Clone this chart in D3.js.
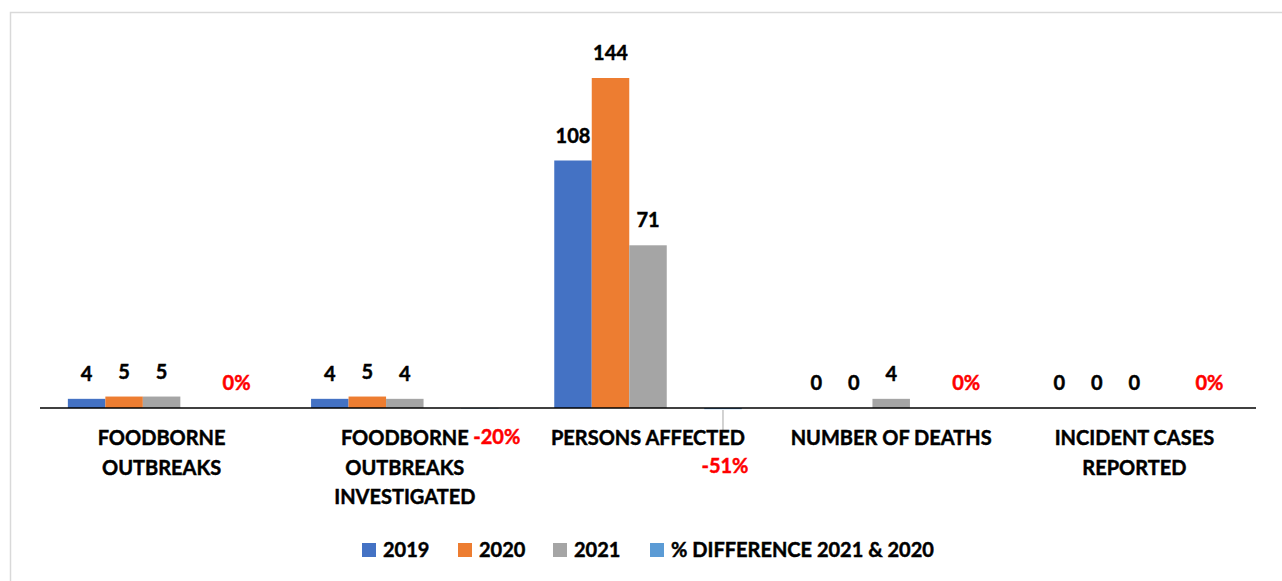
<!DOCTYPE html>
<html lang="en">
<head>
  <meta charset="UTF-8" />
  <title>Foodborne outbreaks 2019-2021</title>
  <script src="https://cdn.jsdelivr.net/npm/d3@7/dist/d3.min.js"></script>
  <style>
    html, body { margin: 0; padding: 0; background: #fff; }
    svg { display: block; font-family: Lato, "Open Sans", sans-serif; font-weight: bold; }
    svg text { stroke-width: 0.45px; paint-order: stroke; }
  </style>
</head>
<body>
  <div id="chart"></div>
  <script>
    // data
    const categories = [
      ["FOODBORNE", "OUTBREAKS"],
      ["FOODBORNE", "OUTBREAKS", "INVESTIGATED"],
      ["PERSONS AFFECTED"],
      ["NUMBER OF DEATHS"],
      ["INCIDENT CASES", "REPORTED"]
    ];
    const years = ["2019", "2020", "2021"];
    const values2019 = [4, 4, 108, 0, 0];
    const values2020 = [5, 5, 144, 0, 0];
    const values2021 = [5, 4, 71, 4, 0];
    const pctDiff = [0, -0.2, -0.51, 0, 0];
    const legendLabels = ["2019", "2020", "2021", "% DIFFERENCE 2021 & 2020"];

    const colors = ["#4472C4", "#ED7D31", "#A5A5A5", "#5B9BD5"];
    const width = 1282, height = 581;

    const svg = d3.select("#chart").append("svg")
      .attr("width", width).attr("height", height);

    // chart border
    svg.append("path")
      .attr("d", `M10.5,${height + 2}V12.5H${width + 2}`)
      .attr("fill", "none").attr("stroke", "#d9d9d9").attr("stroke-width", 1.5);

    const idx = d3.range(categories.length);
    const x0 = d3.scaleBand().domain(idx).range([40, 1256]);
    // 5 slots per group, 4th slot stays empty (as in the source chart)
    const x1 = d3.scaleBand().domain(d3.range(5)).range([0, x0.bandwidth()]).paddingOuter(0.743);
    const y = d3.scaleLinear().domain([0, 144]).range([408, 78]);
    const slotOf = [0, 1, 2, 4];

    const series = [values2019, values2020, values2021];
    const g = svg.append("g");

    series.forEach((vals, s) => {
      g.selectAll(null).data(idx).enter().append("rect")
        .attr("x", i => x0(i) + x1(slotOf[s]))
        .attr("width", x1.bandwidth())
        .attr("y", i => y(vals[i]))
        .attr("height", i => y(0) - y(vals[i]))
        .attr("fill", colors[s]);
      g.selectAll(null).data(idx).enter().append("text")
        .attr("x", i => x0(i) + x1(slotOf[s]) + x1.bandwidth() / 2)
        .attr("y", i => y(vals[i]) - 25)
        .attr("dy", "0.36em")
        .attr("text-anchor", "middle")
        .attr("font-size", 20)
        .attr("fill", "#000").attr("stroke", "#000")
        .text(i => vals[i]);
    });

    // % difference bars (tiny, in percent units on same scale)
    const pctX = i => x0(i) + x1(slotOf[3]);
    g.selectAll(null).data(idx).enter().append("rect")
      .attr("x", pctX)
      .attr("width", x1.bandwidth())
      .attr("y", i => Math.min(y(0), y(pctDiff[i])))
      .attr("height", i => Math.abs(y(pctDiff[i]) - y(0)))
      .attr("fill", colors[3]);

    // label offsets for the % labels (moved by hand in the source)
    const pctLabelOffset = [[0, -25], [17, 29], [2, 58], [0, -25], [0, -25]];
    const pctCx = i => pctX(i) + x1.bandwidth() / 2;

    // leader line for -51%
    g.append("line")
      .attr("x1", pctCx(2)).attr("x2", pctCx(2))
      .attr("y1", y(0) + 2).attr("y2", y(0) + 24)
      .attr("stroke", "#a6a6a6").attr("stroke-width", 1);

    g.selectAll(null).data(idx).enter().append("text")
      .attr("x", i => pctCx(i) + pctLabelOffset[i][0])
      .attr("y", i => y(0) + pctLabelOffset[i][1])
      .attr("dy", "0.36em")
      .attr("text-anchor", "middle")
      .attr("font-size", 20)
      .attr("fill", "#FF0000").attr("stroke", "#FF0000")
      .text(i => Math.round(pctDiff[i] * 100) + "%");

    // x axis line
    svg.append("line")
      .attr("x1", 40).attr("x2", 1256)
      .attr("y1", y(0)).attr("y2", y(0))
      .attr("stroke", "#000").attr("stroke-width", 1.5);

    // category labels
    const cat = svg.append("g").selectAll("text").data(idx).enter().append("text")
      .attr("x", i => x0(i) + x0.bandwidth() / 2)
      .attr("y", 438)
      .attr("text-anchor", "middle")
      .attr("font-size", 20)
      .attr("fill", "#000").attr("stroke", "#000");
    cat.selectAll("tspan").data(i => categories[i]).enter().append("tspan")
      .attr("x", function () { return d3.select(this.parentNode).attr("x"); })
      .attr("dy", (d, k) => k === 0 ? "0.36em" : 29.5)
      .text(d => d);

    // legend
    const legendX = [362, 458, 553, 650];
    const leg = svg.append("g").selectAll("g").data(legendLabels).enter().append("g")
      .attr("transform", (d, k) => `translate(${legendX[k]},550)`);
    leg.append("rect")
      .attr("x", 0).attr("y", -7).attr("width", 14).attr("height", 14)
      .attr("fill", (d, k) => colors[k]);
    leg.append("text")
      .attr("x", 21).attr("dy", "0.36em")
      .attr("font-size", 20)
      .attr("fill", "#000").attr("stroke", "#000")
      .text(d => d);
  </script>
</body>
</html>
